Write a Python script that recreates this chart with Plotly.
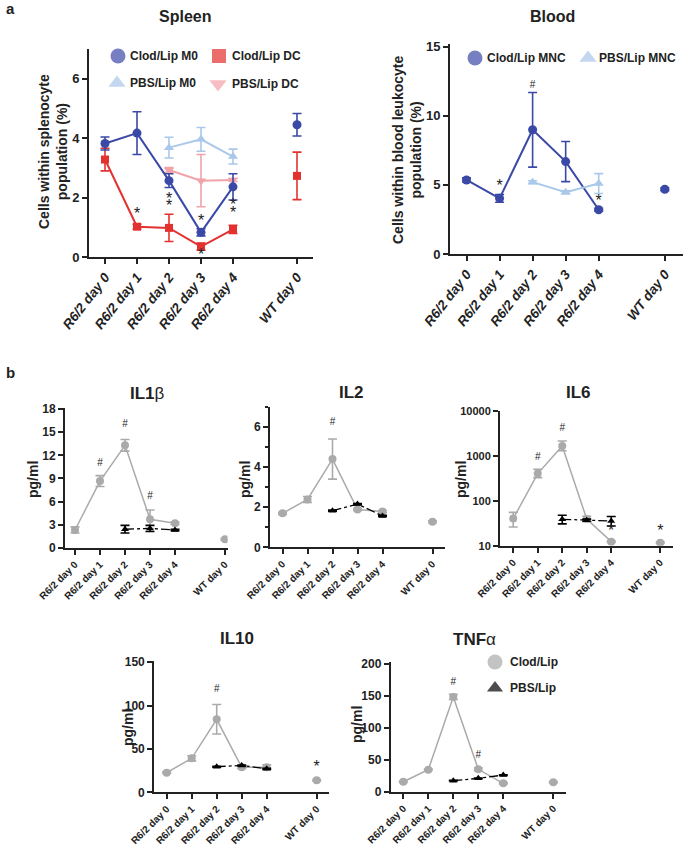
import plotly.graph_objects as go

W, H = 685, 846
FONT = "Liberation Sans, Arial, sans-serif"

cats = ["R6/2 day 0", "R6/2 day 1", "R6/2 day 2", "R6/2 day 3", "R6/2 day 4", "WT day 0"]
xpos = [0, 1, 2, 3, 4, 6]
pbs_idx = [2, 3, 4]

# Spleen
clod_m0 = [3.82, 4.17, 2.57, 0.83, 2.36, 4.45]
clod_m0_err = [0.22, 0.72, 0.23, 0.12, 0.44, 0.38]
clod_dc = [3.28, 1.02, 0.98, 0.35, 0.93, 2.73]
clod_dc_err = [0.38, 0.08, 0.46, 0.12, 0.14, 0.80]
pbs_m0 = [3.68, 3.96, 3.38]
pbs_m0_err = [0.35, 0.40, 0.25]
pbs_dc = [2.93, 2.57, 2.59]
pbs_dc_err = [0.08, 0.88, 0.05]
spleen_star_x = [1, 2, 2, 3, 3, 4, 4]
spleen_star_y = [1.40, 1.92, 1.68, 1.18, 0.02, 1.72, 1.44]

# Blood
clod_mnc = [5.36, 4.03, 8.99, 6.69, 3.20, 4.69]
clod_mnc_err = [0.15, 0.28, 2.70, 1.45, 0.10, 0.10]
pbs_mnc = [5.20, 4.47, 5.10]
pbs_mnc_err = [0.10, 0.10, 0.72]
blood_sig_x = [1, 2, 4]
blood_sig_y = [4.85, 12.2, 3.75]
blood_sig_t = ["*", "#", "*"]

# Cytokines (Clod/Lip all days, PBS/Lip days 2-4)
il1b = [2.3, 8.66, 13.3, 3.69, 3.17, 1.09]
il1b_err = [0.4, 0.7, 0.75, 1.2, 0.15, 0.1]
il1b_pbs = [2.4, 2.5, 2.3]
il1b_pbs_err = [0.5, 0.4, 0.1]
il1b_sig_x = [1, 2, 3]
il1b_sig_y = [11.0, 16.0, 6.6]
il1b_sig_t = ["#", "#", "#"]

il2 = [1.69, 2.38, 4.39, 1.88, 1.78, 1.27]
il2_err = [0.05, 0.15, 1.0, 0.05, 0.05, 0.05]
il2_pbs = [1.82, 2.15, 1.56]
il2_pbs_err = [0.03, 0.03, 0.03]
il2_sig_x = [2]
il2_sig_y = [6.2]
il2_sig_t = ["#"]

il6 = [40, 400, 1640, 39, 12.3, 11.7]
il6_err_p = [15, 100, 480, 6, 0.5, 0.5]
il6_err_m = [14, 75, 350, 5, 0.5, 0.5]
il6_pbs = [38.6, 37, 35.4]
il6_pbs_err_p = [9, 2, 9]
il6_pbs_err_m = [8, 2, 8]
il6_ticks = [10, 100, 1000, 10000]
il6_sig_x = [1, 2, 4, 6]
il6_sig_y = [900, 4000, 20, 20]
il6_sig_t = ["#", "#", "*", "*"]

il10 = [22.6, 39.2, 84.2, 28.8, 28.8, 13.8]
il10_err = [1, 3, 17, 1.5, 3, 1]
il10_pbs = [29.5, 31, 27.2]
il10_pbs_err = [0.5, 0.5, 0.5]
il10_sig_x = [2, 6]
il10_sig_y = [118, 28]
il10_sig_t = ["#", "*"]

tnf = [15.6, 34.4, 148, 35, 13.1, 14.7]
tnf_err = [1, 1, 4, 2, 1, 1]
tnf_pbs = [17.2, 20.9, 26]
tnf_pbs_err = [0.5, 0.5, 0.5]
tnf_sig_x = [2, 3]
tnf_sig_y = [171, 57]
tnf_sig_t = ["#", "#"]

DBLUE = "#3a49a6"
RED = "#e3312f"
LBLUE = "#a9c8ea"
PINK = "#f2a3a8"
GRAY = "#aaaaaa"
BLACK = "#000000"
INK = "#222222"


def P(px, py):
    return px / W, 1 - py / H


fig = go.Figure()


def series(n, xs, ys, err, color, symbol, size, width=2, dash="solid", errm=None, line=True):
    ax = "" if n == 1 else str(n)
    ed = dict(type="data", array=err, arrayminus=errm if errm is not None else err,
              color=color, thickness=1.6, width=4.5, visible=True)
    fig.add_trace(go.Scatter(x=xs, y=ys, mode="lines+markers" if line else "markers",
                             line=dict(color=color, width=width, dash=dash),
                             marker=dict(color=color, symbol=symbol, size=size, line=dict(width=0)),
                             error_y=ed, xaxis="x" + ax, yaxis="y" + ax,
                             showlegend=False, hoverinfo="skip"))


def sig(n, xs, ys, ts):
    ax = "" if n == 1 else str(n)
    sizes = [16 if t == "*" else 10 for t in ts]
    fig.add_trace(go.Scatter(x=xs, y=ys, mode="text", text=ts,
                             textfont=dict(family=FONT, size=sizes, color=INK),
                             xaxis="x" + ax, yaxis="y" + ax, showlegend=False, hoverinfo="skip"))


def clod_pbs(n, clod, clod_err, pbs, pbs_err, cc, csym, csize, pc, psym, psize, cw=2, pw=2, pdash="solid",
             clod_errm=None, pbs_errm=None):
    r6 = xpos[:5]
    series(n, r6, clod[:5], clod_err[:5], cc, csym, csize, cw,
           errm=None if clod_errm is None else clod_errm[:5])
    series(n, [xpos[5]], [clod[5]], [clod_err[5]], cc, csym, csize, cw,
           errm=None if clod_errm is None else [clod_errm[5]], line=False)
    series(n, [xpos[i] for i in pbs_idx], pbs, pbs_err, pc, psym, psize, pw, dash=pdash, errm=pbs_errm)


# Spleen
r6 = xpos[:5]
series(1, r6, clod_dc[:5], clod_dc_err[:5], RED, "square", 8)
series(1, [xpos[5]], [clod_dc[5]], [clod_dc_err[5]], RED, "square", 8, line=False)
series(1, [xpos[i] for i in pbs_idx], pbs_dc, pbs_dc_err, PINK, "triangle-down", 9)
series(1, [xpos[i] for i in pbs_idx], pbs_m0, pbs_m0_err, LBLUE, "triangle-up", 9)
series(1, r6, clod_m0[:5], clod_m0_err[:5], DBLUE, "circle", 9)
series(1, [xpos[5]], [clod_m0[5]], [clod_m0_err[5]], DBLUE, "circle", 9, line=False)
sig(1, spleen_star_x, spleen_star_y, ["*"] * len(spleen_star_x))

# Blood
clod_pbs(2, clod_mnc, clod_mnc_err, pbs_mnc, pbs_mnc_err, DBLUE, "circle", 9, LBLUE, "triangle-up", 9)
sig(2, blood_sig_x, blood_sig_y, blood_sig_t)

# Cytokines
cyto = [
    (3, il1b, il1b_err, il1b_pbs, il1b_pbs_err, None, None, il1b_sig_x, il1b_sig_y, il1b_sig_t),
    (4, il2, il2_err, il2_pbs, il2_pbs_err, None, None, il2_sig_x, il2_sig_y, il2_sig_t),
    (5, il6, il6_err_p, il6_pbs, il6_pbs_err_p, il6_err_m, il6_pbs_err_m, il6_sig_x, il6_sig_y, il6_sig_t),
    (6, il10, il10_err, il10_pbs, il10_pbs_err, None, None, il10_sig_x, il10_sig_y, il10_sig_t),
    (7, tnf, tnf_err, tnf_pbs, tnf_pbs_err, None, None, tnf_sig_x, tnf_sig_y, tnf_sig_t),
]
for n, c, ce, p, pe, cem, pem, sx, sy, st in cyto:
    clod_pbs(n, c, ce, p, pe, GRAY, "circle", 8, BLACK, "triangle-up", 7, cw=1.5, pw=1.3,
             pdash="dashdot", clod_errm=cem, pbs_errm=pem)
    sig(n, sx, sy, st)

# Legends drawn on overlay axis (pixel coordinates)
leg_items = [
    (118, 56, DBLUE, "circle", 15, "Clod/Lip M0", 128),
    (219, 56, RED, "square", 14, "Clod/Lip DC", 230),
    (117, 83, LBLUE, "triangle-up", 15, "PBS/Lip M0", 128),
    (218, 84, PINK, "triangle-down", 15, "PBS/Lip DC", 230),
    (475, 58, DBLUE, "circle", 15, "Clod/Lip MNC", 485),
    (588, 58, LBLUE, "triangle-up", 15, "PBS/Lip MNC", 597),
    (495, 662, GRAY, "circle", 15, "Clod/Lip", 508),
    (495, 688, BLACK, "triangle-up", 14, "PBS/Lip", 508),
]
fig.add_trace(go.Scatter(x=[i[0] for i in leg_items], y=[i[1] for i in leg_items], mode="markers",
                         marker=dict(color=[i[2] for i in leg_items], symbol=[i[3] for i in leg_items],
                                     size=[i[4] for i in leg_items], line=dict(width=0)),
                         xaxis="x8", yaxis="y8", showlegend=False, hoverinfo="skip"))

annotations = []
for it in leg_items:
    x, y = P(it[6], it[1])
    annotations.append(dict(x=x, y=y, xref="paper", yref="paper", text="<b>%s</b>" % it[5],
                            showarrow=False, xanchor="left", yanchor="middle",
                            font=dict(family=FONT, size=12, color=INK)))


def label(px, py, text, size, angle=0, xanchor="center"):
    x, y = P(px, py)
    annotations.append(dict(x=x, y=y, xref="paper", yref="paper", text=text, showarrow=False,
                            xanchor=xanchor, yanchor="middle", textangle=angle,
                            font=dict(family=FONT, size=size, color=INK)))


label(10, 9, "<b>a</b>", 15)
label(10, 372, "<b>b</b>", 15)
label(185, 16, "<b>Spleen</b>", 16)
label(552, 16, "<b>Blood</b>", 16)
label(53, 152, "<b>Cells within splenocyte<br>population (%)</b>", 14, -90)
label(407, 150, "<b>Cells within blood leukocyte<br>population (%)</b>", 14, -90)
label(147, 393, "<b>IL1</b>β", 17)
label(351, 392, "<b>IL2</b>", 17)
label(578, 392, "<b>IL6</b>", 17)
label(237, 638, "<b>IL10</b>", 17)
label(474, 639, "<b>TNF</b>α", 17)
for px, py in [(33, 480), (245, 480), (461, 480), (128, 727), (357, 725)]:
    label(px, py, "<b>pg/ml</b>", 14, -90)


def xa(left, right, rng, n, size, italic, angle):
    d = dict(domain=[left / W, right / W], range=rng, tickvals=xpos, ticktext=cats,
             tickangle=angle, ticks="outside", ticklen=5, tickwidth=1.5, tickcolor=INK,
             showline=True, linewidth=2, linecolor=INK, showgrid=False, zeroline=False,
             automargin=False, anchor="y" + ("" if n == 1 else str(n)),
             tickfont=dict(family=FONT, size=size, color=INK, weight="bold",
                           style="italic" if italic else "normal"))
    return d


def ya(top, bottom, rng, n, tickvals, size=12, log=False, minor=None, ticktext=None):
    d = dict(domain=[1 - bottom / H, 1 - top / H], range=rng, tickvals=tickvals,
             ticks="outside", ticklen=5, tickwidth=1.5, tickcolor=INK,
             showline=True, linewidth=2, linecolor=INK, showgrid=False, zeroline=False,
             automargin=False, anchor="x" + ("" if n == 1 else str(n)),
             tickfont=dict(family=FONT, size=size, color=INK, weight="bold"))
    if ticktext:
        d["ticktext"] = ticktext
    if log:
        d["type"] = "log"
    if minor:
        d["minor"] = minor
    return d


layout = dict(
    template="none",
    width=W, height=H, margin=dict(l=0, r=0, t=0, b=0, pad=0), autosize=False,
    paper_bgcolor="white", plot_bgcolor="rgba(0,0,0,0)", showlegend=False,
    font=dict(family=FONT, color=INK),
    xaxis=xa(89, 313, [-0.5, 6.5], 1, 13.5, True, -52),
    yaxis=ya(49, 257, [0, 7.0], 1, [0, 2, 4, 6], 13),
    xaxis2=xa(450, 683, [-0.5, 6.55], 2, 13.5, True, -52),
    yaxis2=ya(44, 254, [0, 15.2], 2, [0, 5, 10, 15], 13),
    xaxis3=xa(65, 227.5, [-0.4, 6.1], 3, 10, False, -45),
    yaxis3=ya(407.6, 547.7, [0, 18.2], 3, [0, 3, 6, 9, 12, 15, 18]),
    xaxis4=xa(270, 445, [-0.5, 6.5], 4, 10, False, -45),
    yaxis4=ya(406.6, 547.3, [0, 7], 4, [0, 2, 4, 6],
              minor=dict(tickvals=[1, 3, 5, 7], ticklen=3, ticks="outside", tickcolor=INK)),
    xaxis5=xa(500, 672.5, [-0.54, 6.5], 5, 10, False, -45),
    yaxis5=ya(410.7, 545.7, [1, 4], 5, il6_ticks, 11, log=True,
              ticktext=[str(t) for t in il6_ticks]),
    xaxis6=xa(154.2, 329.2, [-0.5, 6.5], 6, 10, False, -45),
    yaxis6=ya(660.5, 792.3, [0, 152], 6, [0, 50, 100, 150]),
    xaxis7=xa(390.8, 565.8, [-0.5, 6.5], 7, 10, False, -45),
    yaxis7=ya(662.4, 791.7, [0, 202], 7, [0, 50, 100, 150, 200]),
    xaxis8=dict(domain=[0, 1], range=[0, W], visible=False, anchor="y8", fixedrange=True, automargin=False),
    yaxis8=dict(domain=[0, 1], range=[H, 0], visible=False, anchor="x8", fixedrange=True, automargin=False),
    annotations=annotations,
)
fig.update_layout(**layout)
fig.write_html("out.html", config={"displayModeBar": False},
               post_script="document.body.style.margin='0';document.body.style.overflow='hidden';")
